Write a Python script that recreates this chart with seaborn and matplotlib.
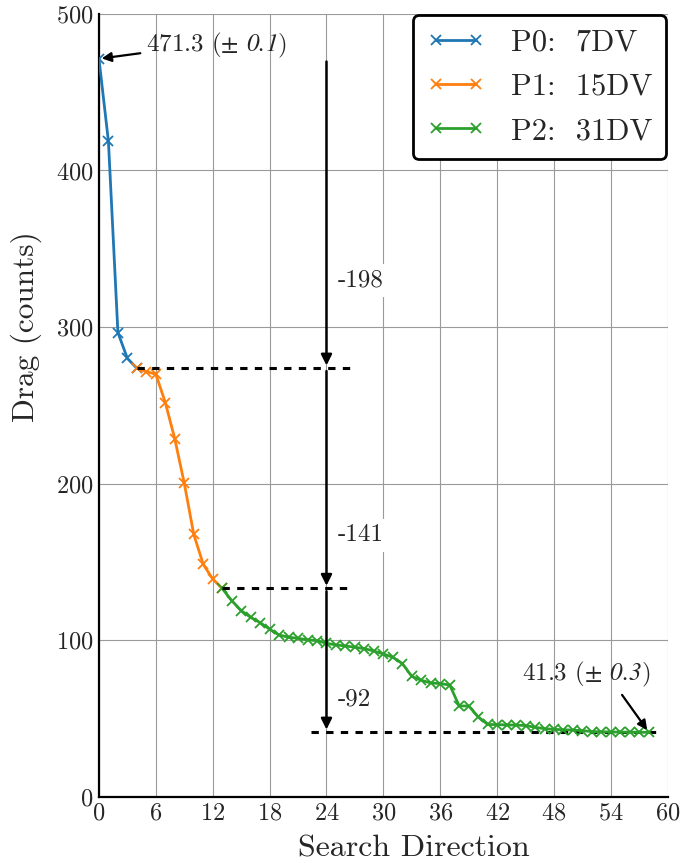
import matplotlib
matplotlib.use("Agg")
import matplotlib.pyplot as plt
import seaborn as sns
import pandas as pd

# Drag history for each parametrisation level
p0_iter = [0, 1, 2, 3, 4]
p0_drag = [471.3, 418.5, 296.5, 280.0, 273.7]

p1_iter = [4, 5, 6, 7, 8, 9, 10, 11, 12, 13]
p1_drag = [273.7, 271.6, 269.9, 251.8, 228.6, 200.3, 167.7, 148.5, 139.2, 133.1]

p2_iter = list(range(13, 59))
p2_drag = [133.1, 125.4, 119.0, 114.7, 111.3, 107.1, 103.4, 102.0, 101.3, 100.3,
           99.8, 98.1, 97.1, 96.4, 95.6, 94.7, 93.2, 91.3, 89.2, 85.2,
           77.0, 74.5, 72.8, 72.4, 71.5, 58.1, 58.1, 51.2, 46.3, 46.2,
           46.0, 45.9, 45.6, 44.5, 43.6, 43.2, 42.9, 42.7, 42.3, 41.8,
           41.6, 41.5, 41.4, 41.4, 41.3, 41.3]

series_labels = ["P0:  7DV", "P1:  15DV", "P2:  31DV"]
series_colors = ["#1f77b4", "#ff7f0e", "#2ca02c"]

# Drag level reached at the end of each level, and the reductions between them
levels = [471.3, 273.7, 133.1, 41.3]
start_std = 0.1
final_std = 0.3

x_ticks = list(range(0, 61, 6))
y_ticks = list(range(0, 501, 100))

sns.set_style("white")
plt.rcParams["font.family"] = "serif"
plt.rcParams["font.serif"] = ["cmr10"]
plt.rcParams["mathtext.fontset"] = "custom"
plt.rcParams["mathtext.rm"] = "STIXGeneral"
plt.rcParams["mathtext.sf"] = "STIXGeneral:italic"
plt.rcParams["mathtext.fallback"] = "stix"
plt.rcParams["axes.formatter.use_mathtext"] = True

fig, ax = plt.subplots(figsize=(6.92, 8.63), dpi=100)
fig.subplots_adjust(left=0.143, right=0.965, top=0.984, bottom=0.0765)

frames = [
    pd.DataFrame({"iter": p0_iter, "drag": p0_drag, "phase": series_labels[0]}),
    pd.DataFrame({"iter": p1_iter, "drag": p1_drag, "phase": series_labels[1]}),
    pd.DataFrame({"iter": p2_iter, "drag": p2_drag, "phase": series_labels[2]}),
]
for df, lab, col in zip(frames, series_labels, series_colors):
    sns.lineplot(data=df, x="iter", y="drag", ax=ax, color=col, label=lab,
                 marker="x", markersize=7.5, markeredgewidth=1.3,
                 markeredgecolor=col, linewidth=2, zorder=3)

# Horizontal reference lines at each level's final drag
dash = (0, (2.4, 2.4))
ax.hlines(levels[1], p1_iter[0], 26.5, colors="k", linestyles=dash, lw=2.2, zorder=4)
ax.hlines(levels[2], p2_iter[0], 26.2, colors="k", linestyles=dash, lw=2.2, zorder=4)
ax.hlines(levels[3], 22.4, 59.0, colors="k", linestyles=dash, lw=2.2, zorder=2)

# Reduction arrows between successive levels
label_y = [330, 167, 62]
for upper, lower, ty in zip(levels[:-1], levels[1:], label_y):
    ax.annotate("", xy=(24, lower), xytext=(24, upper),
                arrowprops=dict(arrowstyle="-|>", color="k", lw=1.8,
                                mutation_scale=16), zorder=5)
    ax.text(25.2, ty, f"-{round(upper - lower)}", fontsize=18, ha="left",
            va="center", zorder=6,
            bbox=dict(facecolor="white", edgecolor="none", pad=4))

ax.annotate(f"{levels[0]} ($\\pm$ $\\mathsf{{{start_std}}}$)",
            xy=(p0_iter[0], p0_drag[0]), xytext=(5.0, 480),
            fontsize=18, ha="left", va="center",
            arrowprops=dict(arrowstyle="-|>", color="k", lw=1.6,
                            mutation_scale=14, relpos=(0, 0.25)), zorder=6)
ax.annotate(f"{levels[3]} ($\\pm$ $\\mathsf{{{final_std}}}$)",
            xy=(p2_iter[-1], p2_drag[-1]), xytext=(44.6, 78),
            fontsize=18, ha="left", va="center",
            arrowprops=dict(arrowstyle="-|>", color="k", lw=1.6,
                            mutation_scale=14, relpos=(0.75, 0)), zorder=6)

ax.set_xlim(0, 60)
ax.set_ylim(0, 500)
ax.set_xticks(x_ticks)
ax.set_yticks(y_ticks)
ax.tick_params(axis="both", length=0, labelsize=17.5, pad=4)
ax.grid(True, color="#9a9a9a", linewidth=0.8, zorder=0)
ax.set_axisbelow(True)
for side in ("top", "right"):
    ax.spines[side].set_visible(False)
for side in ("left", "bottom"):
    ax.spines[side].set_color("k")
    ax.spines[side].set_linewidth(1.6)

ax.set_xlabel("Search Direction", fontsize=23)
ax.set_ylabel("Drag (counts)", fontsize=22.5)
ax.xaxis.set_label_coords(0.554, -0.049)
ax.yaxis.set_label_coords(-0.10, 0.60)

leg = ax.legend(loc="upper right", fontsize=22, numpoints=2, handlelength=1.9,
                borderaxespad=0.05, framealpha=1, fancybox=True,
                edgecolor="k", handletextpad=0.85, labelspacing=0.55,
                borderpad=0.45)
leg.get_frame().set_linewidth(2.0)

fig.savefig("out.png", dpi=100)
